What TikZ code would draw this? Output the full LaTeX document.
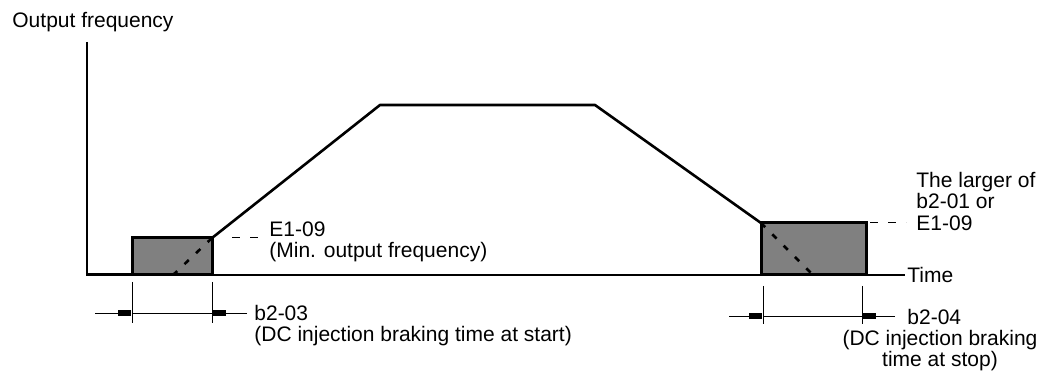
\documentclass[tikz,border=0pt]{standalone}
\usepackage{fontspec}
\setmainfont{Liberation Sans}
\usepackage{tikz}
\usetikzlibrary{arrows.meta}
\definecolor{GrisFreno}{RGB}{128,128,128}
\tikzset{
  perfil/.style={line width=1.5pt,line join=miter},
  cota/.style={line width=0.5pt},
  guia/.style={line width=0.5pt,dash pattern=on 4pt off 5pt},
  rampa/.style={line width=1.3pt,dash pattern=on 3pt off 5pt},
  texto/.style={inner sep=0pt,align=left}
}

\begin{document}
\begin{tikzpicture}[x=0.5pt,y=-0.5pt,>={Rectangle[length=6.5pt,width=2.6pt]},
  font=\fontsize{10.5}{10.6}\selectfont]
  \useasboundingbox (0,0) rectangle (1051,374);
  % ejes
  \coordinate (O) at (87,275);
  \coordinate (Ytop) at (87,42);
  \coordinate (Tend) at (905,275);
  \draw[line width=0.65pt] (Ytop) -- (O) -- (Tend);
  \node[texto,anchor=west] (flab) at (12,22) {Output frequency};
  \node[texto,anchor=west] (tlab) at ([xshift=1pt]Tend) {Time};
  % frenado al arrancar
  \coordinate (A1) at (132,275);
  \coordinate (A2) at (212,238);
  \fill[GrisFreno] (A1) rectangle (A2);
  \draw[rampa] (A2) -- (173,275);
  \draw[perfil] (O) -- (A1);
  \draw[perfil] (A1) rectangle (A2);
  % rampa y meseta
  \coordinate (R1) at (380,105);
  \coordinate (R2) at (595,105);
  \coordinate (B1) at (761,223);
  \coordinate (B2) at (866,275);
  \draw[perfil,line width=1.3pt,line join=round] (A2) -- (R1) -- (R2) -- (B1);
  % frenado al parar
  \fill[GrisFreno] (B1) rectangle (B2);
  \draw[rampa] (B1) -- (813,275);
  \draw[perfil] (B1) rectangle (B2);
  % lineas guia
  \draw[guia] (232,238) -- (258,238);
  \draw[guia] (870,223) -- (906,223);
  \node[texto,anchor=north west] (e109) at (269,221) {E1-09\\(Min. output frequency)};
  \node[texto,anchor=north west] (b201) at (916,172) {The larger of\\b2-01 or\\E1-09};
  % cota b2-03
  \draw[cota] (132,282) -- (132,323);
  \draw[cota] (212,282) -- (212,323);
  \draw[cota,->] (95,313) -- (131,313);
  \draw[cota] (132,313) -- (212,313);
  \draw[cota,->] (247,313) -- (213,313);
  \node[texto,anchor=north west] (b203) at (254,305) {b2-03\\(DC injection braking time at start)};
  % cota b2-04
  \draw[cota] (763,286) -- (763,324);
  \draw[cota] (862,286) -- (862,324);
  \draw[cota,->] (729,316) -- (762,316);
  \draw[cota] (763,316) -- (862,316);
  \draw[cota,->] (895,316) -- (863,316);
  \node[texto,anchor=west] (b204) at (907,317) {b2-04};
  \node[texto,align=center,anchor=north] (b204t) at (940,330) {(DC injection braking\\time at stop)};
\end{tikzpicture}
\end{document}
